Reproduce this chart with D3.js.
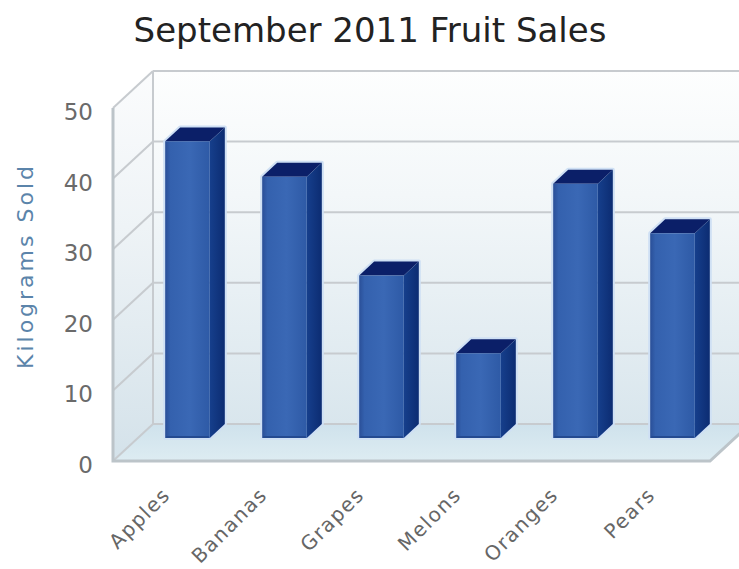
<!DOCTYPE html>
<html>
<head>
<meta charset="utf-8">
<script src="https://cdn.jsdelivr.net/npm/d3@7/dist/d3.min.js"></script>
<style>
  html, body { margin: 0; padding: 0; background: #ffffff; }
  svg { display: block; }
</style>
</head>
<body>
<div id="chart"></div>
<script>
// Fruit sales for September 2011 (kilograms)
const categories = ["Apples", "Bananas", "Grapes", "Melons", "Oranges", "Pears"];
const sales = [42, 37, 23, 12, 36, 29];
const yTicks = [0, 10, 20, 30, 40, 50];
const chartTitle = "September 2011 Fruit Sales";
const yAxisTitle = "Kilograms Sold";

const W = 739, H = 569;

// back plane of the 3D box
const backLeft = 153, backRight = 750;
const y = d3.scaleLinear().domain([0, 50]).range([424, 71]);
const x = d3.scaleBand().domain(categories).range([154, 736])
  .paddingInner(0.54).paddingOuter(0.27);

// depth vector from the back plane to the front plane
const DX = -40, DY = 37;
const barDepth = 0.375;
const P = (px, py, d) => [px + DX * d, py + DY * d];
const pts = arr => arr.map(p => p.join(",")).join(" ");

const svg = d3.select("#chart").append("svg")
  .attr("width", W).attr("height", H)
  .attr("font-family", "'DejaVu Sans', Verdana, sans-serif");

const defs = svg.append("defs");
function vGrad(id, stops) {
  const g = defs.append("linearGradient").attr("id", id)
    .attr("x1", 0).attr("y1", 0).attr("x2", 0).attr("y2", 1);
  stops.forEach(([o, c]) => g.append("stop").attr("offset", o).attr("stop-color", c));
}
function hGrad(id, stops) {
  const g = defs.append("linearGradient").attr("id", id)
    .attr("x1", 0).attr("y1", 0).attr("x2", 1).attr("y2", 0);
  stops.forEach(([o, c]) => g.append("stop").attr("offset", o).attr("stop-color", c));
}
vGrad("wallGrad", [[0, "#fdfefe"], [0.35, "#f3f7f9"], [1, "#d9e6ed"]]);
vGrad("sideGrad", [[0, "#fbfcfd"], [0.4, "#eef3f6"], [1, "#d4e2ea"]]);
vGrad("floorGrad", [[0, "#cfe2ec"], [1, "#ddecf2"]]);
hGrad("frontGrad", [[0, "#2a4f98"], [0.12, "#3461ae"], [0.55, "#3a68b5"], [1, "#2e5aa6"]]);
hGrad("sideFaceGrad", [[0, "#163f8c"], [1, "#0c2c72"]]);

const gridColor = "#c7cbcf";

// walls and floor
const y0 = y(0), yTop = y(50);
svg.append("polygon")
  .attr("points", pts([[backLeft, yTop], [backRight, yTop], [backRight, y0], [backLeft, y0]]))
  .attr("fill", "url(#wallGrad)");
svg.append("polygon")
  .attr("points", pts([P(backLeft, yTop, 1), [backLeft, yTop], [backLeft, y0], P(backLeft, y0, 1)]))
  .attr("fill", "url(#sideGrad)");
svg.append("polygon")
  .attr("points", pts([[backLeft, y0], [backRight, y0], P(backRight, y0, 1), P(backLeft, y0, 1)]))
  .attr("fill", "url(#floorGrad)");

// gridlines on back wall and side wall
const grid = svg.append("g").attr("fill", "none").attr("stroke", gridColor).attr("stroke-width", 2);
yTicks.forEach(v => {
  grid.append("line")
    .attr("x1", backLeft).attr("x2", backRight)
    .attr("y1", y(v)).attr("y2", y(v));
  const f = P(backLeft, y(v), 1);
  grid.append("line")
    .attr("x1", backLeft).attr("y1", y(v))
    .attr("x2", f[0]).attr("y2", f[1]);
});
// box edges
grid.append("line").attr("x1", backLeft).attr("x2", backLeft).attr("y1", yTop).attr("y2", y0);
const fl = P(backLeft, yTop, 1), fb = P(backLeft, y0, 1), fr = P(backRight, y0, 1);
svg.append("polyline")
  .attr("points", pts([fl, fb, fr, [backRight, y0]]))
  .attr("fill", "none").attr("stroke", "#bcc4c9").attr("stroke-width", 3)
  .attr("stroke-linejoin", "miter");

// bars
const bars = svg.append("g");
categories.forEach((c, i) => {
  const bx0 = x(c), bx1 = x(c) + x.bandwidth();
  const yb = y(sales[i]);
  const g = bars.append("g");
  const front = [P(bx0, yb, barDepth), P(bx1, yb, barDepth), P(bx1, y0, barDepth), P(bx0, y0, barDepth)];
  const top = [[bx0, yb], [bx1, yb], P(bx1, yb, barDepth), P(bx0, yb, barDepth)];
  const side = [P(bx1, yb, barDepth), [bx1, yb], [bx1, y0], P(bx1, y0, barDepth)];
  const outline = [P(bx0, yb, barDepth), [bx0, yb], [bx1, yb], [bx1, y0], P(bx1, y0, barDepth), P(bx0, y0, barDepth)];
  g.append("polygon").attr("points", pts(outline))
    .attr("fill", "none").attr("stroke", "#cfe0f4").attr("stroke-width", 4).attr("stroke-linejoin", "round");
  g.append("polygon").attr("points", pts(top)).attr("fill", "#0b1f68");
  g.append("polygon").attr("points", pts(side)).attr("fill", "url(#sideFaceGrad)");
  g.append("polygon").attr("points", pts(front)).attr("fill", "url(#frontGrad)");
  g.append("line")
    .attr("x1", front[3][0] + 1).attr("x2", front[2][0] - 1)
    .attr("y1", front[3][1] - 1).attr("y2", front[2][1] - 1)
    .attr("stroke", "#244a91").attr("stroke-width", 2);
});

// y tick labels on the front plane
svg.append("g").selectAll("text").data(yTicks).join("text")
  .attr("x", 93)
  .attr("y", d => P(backLeft, y(d), 1)[1] + 4)
  .attr("text-anchor", "end")
  .attr("dominant-baseline", "central")
  .attr("font-size", 23)
  .attr("fill", "#6a6a6a")
  .text(d => d);

// category labels
svg.append("g").selectAll("text").data(categories).join("text")
  .attr("transform", d => `translate(${x(d) + x.bandwidth() / 2 - 31},496) rotate(-45)`)
  .attr("text-anchor", "end")
  .attr("font-size", 20)
  .attr("letter-spacing", 1.5)
  .attr("fill", "#666666")
  .text(d => d);

// y axis title
svg.append("text")
  .attr("transform", "translate(33,266) rotate(-90)")
  .attr("text-anchor", "middle")
  .attr("font-size", 22)
  .attr("letter-spacing", 3)
  .attr("fill", "#5b84aa")
  .text(yAxisTitle);

// chart title
svg.append("text")
  .attr("x", 370).attr("y", 42)
  .attr("text-anchor", "middle")
  .attr("font-size", 34)
  .attr("fill", "#222222")
  .text(chartTitle);
</script>
</body>
</html>
